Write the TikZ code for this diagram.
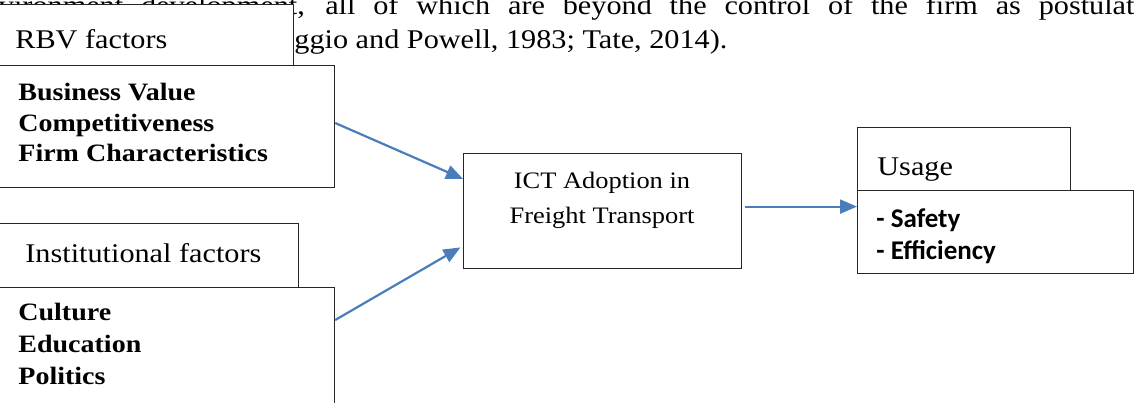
\documentclass[tikz,border=0pt]{standalone}
\usepackage{fontspec}
\setmainfont{Liberation Serif}[FakeStretch=1.12]
\newfontfamily\calibrifont{Carlito}
\usetikzlibrary{arrows.meta, calc}
\definecolor{arrowblue}{RGB}{74,126,187}

\begin{document}
\begin{tikzpicture}[
  x=0.5pt,
  y=-0.5pt,
  box/.style={draw=black!85, line width=0.6pt, fill=white, anchor=north west,
    inner sep=0pt},
  headtext/.style={anchor=base west, inner sep=0pt,
    font=\fontsize{13.5}{16}\selectfont},
  listtext/.style={anchor=north west, inner sep=0pt, align=left},
  pagetext/.style={anchor=base west, inner sep=0pt,
    font=\fontsize{13.5}{16}\selectfont},
  arrow/.style={-{Triangle[length=8.5pt, width=7pt]}, draw=arrowblue,
    line width=1.1pt}
]
  \useasboundingbox (0,0) rectangle (1134,402);
  \clip (0,0) rectangle (1134,402);

  % Page text running behind the figure.
  \node[pagetext] at (-30,14) (pageline1) {\makebox[582pt][s]{environment development, all of which are beyond the control of the firm as postulat}};
  \node[pagetext] at (294,48) (pageline2) {ggio and Powell, 1983; Tate, 2014).};

  % RBV factors.
  \node[box, minimum width=151.5pt, minimum height=30.5pt] at (-10,4)   (rbvhead) {};
  \node[box, minimum width=172pt, minimum height=61pt]     at (-10,65)  (rbvbody) {};
  \node[headtext] at (15,48) (rbvtitle) {RBV factors};
  \node[listtext, font=\bfseries\fontsize{12.5}{15.25}\selectfont] at (18,83) (rbvitems)
    {Business Value\\Competitiveness\\Firm Characteristics};

  % Institutional factors.
  \node[box, minimum width=154pt, minimum height=32pt]     at (-10,223) (insthead) {};
  \node[box, minimum width=172pt, minimum height=70pt]     at (-10,287) (instbody) {};
  \node[headtext] at (25,262) (insttitle) {Institutional factors};
  \node[listtext, font=\bfseries\fontsize{12.5}{16}\selectfont] at (18,303) (institems)
    {Culture\\Education\\Politics};

  % ICT adoption.
  \node[box, minimum width=139pt, minimum height=57.5pt]   at (463,153) (ict) {};
  \node[anchor=north, inner sep=0pt, align=center,
    font=\fontsize{11.8}{17.5}\selectfont] at (602,172) (icttext)
    {ICT Adoption in\\Freight Transport};

  % Usage.
  \node[box, minimum width=106.5pt, minimum height=31.5pt] at (857,127) (usehead) {};
  \node[box, minimum width=138pt, minimum height=41.5pt]   at (857,190) (usebody) {};
  \node[headtext] at (877,175) (usetitle) {Usage};
  \node[listtext, font=\calibrifont\bfseries\fontsize{13.5}{16}\selectfont] at (876,208) (useitems)
    {- Safety\\- Efficiency};

  \draw[arrow] ($(rbvbody.north east)+(0,58)$) -- (ict.167);
  \draw[arrow, shorten >=1.5pt] ($(instbody.north east)+(0,33)$) -- (ict.194);
  \coordinate (ictout) at ([xshift=1.5pt, yshift=2.25pt]ict.east);
  \draw[arrow] (ictout) -- (ictout -| usebody.west);

\end{tikzpicture}
\end{document}
